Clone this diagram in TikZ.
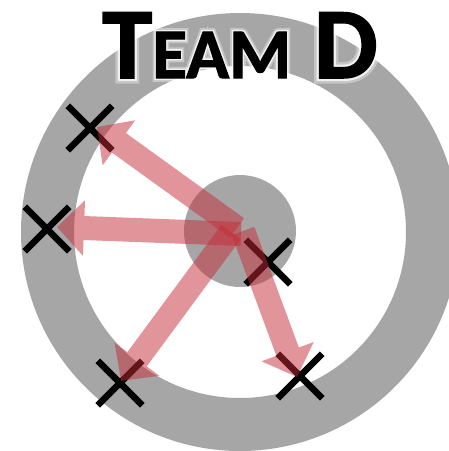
\documentclass[tikz,border=0pt]{standalone}
\usepackage{fontspec}
\newfontfamily\titlefont[FakeBold=1.5]{Carlito Bold}
\newfontfamily\glowfont[FakeBold=6]{Carlito Bold}
\newfontfamily\haloFont[FakeBold=11]{Carlito Bold}
\usetikzlibrary{arrows.meta,shapes.misc}
\definecolor{ringgray}{HTML}{A6A6A6}
\definecolor{shotred}{HTML}{C52D37}
\newcommand{\teamtext}{{\fontsize{101}{101}\selectfont T}{\fontsize{71}{71}\selectfont EAM}{\fontsize{101}{101}\selectfont\ D}}
\tikzset{
  ring/.style={fill=ringgray, even odd rule},
  disk/.style={circle, fill=ringgray, minimum size=112pt, inner sep=0pt},
  xmark/.style={cross out, draw=black, line width=6.5pt, minimum size=38pt, inner sep=0pt},
  shot/.style={draw=shotred, line width=24pt, -{Triangle[length=27pt,width=54pt]}},
}
\begin{document}
\begin{tikzpicture}[x=1pt,y=-1pt]
  \useasboundingbox (0,0) rectangle (449,451);
  \clip (0,0) rectangle (449,451);
  \fill[white] (0,0) rectangle (449,451);
  % target
  \fill[ring] (240,232) circle (219pt) circle (166pt);
  \node[disk] (core) at (240,231) {};
  % hits
  \node[xmark] (hitA) at (90,128) {};
  \node[xmark] (hitB) at (47,229) {};
  \node[xmark] (hitC) at (120,383) {};
  \node[xmark] (hitD) at (300,376) {};
  \node[xmark] (hitE) at (268,262) {};
  % arrow ends
  \coordinate (tailA) at (237,228);  \coordinate (tipA) at (97,127);
  \coordinate (tailB) at (241,234);  \coordinate (tipB) at (57,227);
  \coordinate (tailC) at (231,232);  \coordinate (tipC) at (121,381);
  \coordinate (tailD) at (243,231);  \coordinate (tipD) at (297,377);
  \foreach \a/\b in {tailA/tipA, tailB/tipB, tailC/tipC, tailD/tipD} {
    \begin{scope}[transparency group, opacity=0.5]
      \draw[shot] (\a) -- (\b);
    \end{scope}
  }
  % title
  \node[anchor=base, text=white, opacity=0.35, font=\haloFont] (halo) at (240,78) {\teamtext};
  \node[anchor=base, text=white, opacity=0.75, font=\glowfont] (glow) at (240,78) {\teamtext};
  \node[anchor=base, font=\titlefont] (title) at (240,78) {\teamtext};
\end{tikzpicture}
\end{document}
